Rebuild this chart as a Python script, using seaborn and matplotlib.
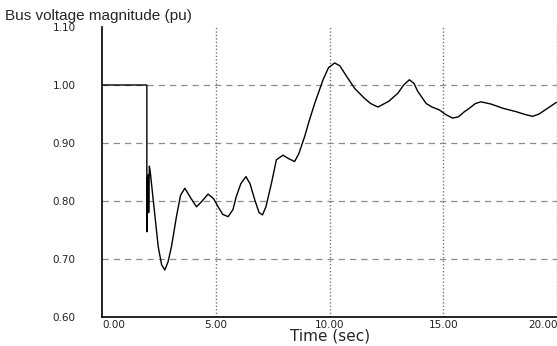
import numpy as np
import pandas as pd
import matplotlib
matplotlib.use("Agg")
import matplotlib.pyplot as plt
import seaborn as sns

# ---- data ----
time_sec = [0.0, 1.97, 1.97, 1.99, 2.01, 2.03, 2.05, 2.08, 2.12, 2.32, 2.47, 2.62,
            2.76, 2.9, 3.05, 3.27, 3.45, 3.64, 3.9, 4.15, 4.4, 4.66, 4.9, 5.1,
            5.3, 5.54, 5.75, 5.9, 6.1, 6.32, 6.5, 6.71, 6.9, 7.05, 7.2, 7.44,
            7.66, 7.95, 8.2, 8.46, 8.65, 8.9, 9.1, 9.34, 9.71, 9.95, 10.22, 10.45,
            10.66, 11.1, 11.53, 11.8, 12.12, 12.6, 13.0, 13.25, 13.5, 13.7, 13.87,
            14.24, 14.5, 14.82, 15.1, 15.4, 15.65, 15.92, 16.14, 16.4, 16.65,
            17.1, 17.6, 18.19, 18.6, 18.92, 19.2, 19.5, 19.96]
voltage_pu = [1.0, 1.0, 0.747, 0.84, 0.78, 0.845, 0.78, 0.86, 0.85, 0.776, 0.721, 0.69,
              0.681, 0.695, 0.721, 0.773, 0.81, 0.822, 0.805, 0.79, 0.800, 0.812, 0.804, 0.79,
              0.777, 0.773, 0.785, 0.808, 0.83, 0.842, 0.830, 0.802, 0.78, 0.776, 0.79, 0.83,
              0.871, 0.879, 0.873, 0.868, 0.882, 0.911, 0.938, 0.968, 1.009, 1.030, 1.038, 1.033,
              1.02, 0.994, 0.977, 0.968, 0.962, 0.972, 0.986, 1.0, 1.009, 1.003, 0.989,
              0.968, 0.962, 0.957, 0.949, 0.943, 0.945, 0.954, 0.96, 0.968, 0.971,
              0.967, 0.96, 0.954, 0.949, 0.946, 0.950, 0.958, 0.970]

x_ticks = [0, 5, 10, 15, 20]
x_tick_labels = ["0.00", "5.00", "10.00", "15.00", "20.00"]
y_ticks = [0.6, 0.7, 0.8, 0.9, 1.0, 1.1]
y_tick_labels = ["0.60", "0.70", "0.80", "0.90", "1.00", "1.10"]

df = pd.DataFrame({"t": time_sec, "v": voltage_pu})

sns.set_theme(style="white")
plt.rcParams['font.family'] = ['Liberation Sans', 'DejaVu Sans']

fig = plt.figure(figsize=(5.57, 3.46), dpi=100)
ax = fig.add_axes([102 / 557, 1 - 317 / 346, 456 / 557, 290 / 346])

# grid: dashed horizontals, dotted verticals
for yv in [0.7, 0.8, 0.9, 1.0]:
    ax.axhline(yv, color="#8c8c8c", lw=0.9, ls=(0, (5, 4)), zorder=0)
for xv in [5, 10, 15, 20]:
    ax.axvline(xv, color="#777777", lw=1.0, ls=(0, (1, 1.5)), zorder=0)

sns.lineplot(data=df, x="t", y="v", estimator=None, sort=False,
             color="black", lw=1.0, ax=ax)

ax.set_xlim(0, 20.03)
ax.set_ylim(0.6, 1.1)
ax.set_xticks(x_ticks)
ax.set_xticklabels(x_tick_labels, fontsize=7.5, color="#222222", family="DejaVu Sans")
ax.set_yticks(y_ticks)
ax.set_yticklabels(y_tick_labels, fontsize=7.5, color="#222222", family="DejaVu Sans")
ax.tick_params(axis="y", length=5, width=1, color="black", pad=14)
ax.tick_params(axis="x", length=0, pad=2)
lbls = ax.get_xticklabels()
lbls[0].set_ha("left")
lbls[-1].set_ha("right")

for side in ["top", "right"]:
    ax.spines[side].set_visible(False)
for side in ["left", "bottom"]:
    ax.spines[side].set_color("black")
    ax.spines[side].set_linewidth(1.2)

ax.set_xlabel("Time (sec)", fontsize=11, labelpad=-1, family="DejaVu Sans")
ax.set_ylabel("")
fig.text(5 / 557, 1 - 16 / 346, "Bus voltage magnitude (pu)", fontsize=11,
         va="center", ha="left")

fig.savefig("out.png", dpi=100)
